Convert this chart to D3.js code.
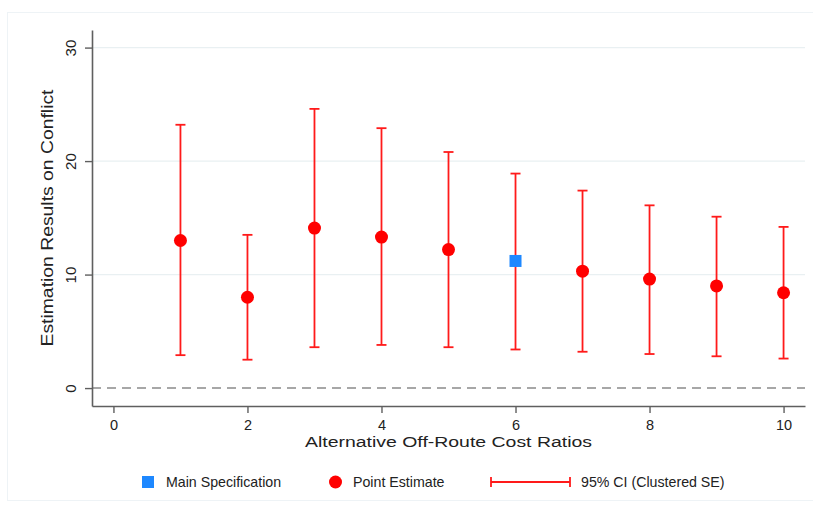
<!DOCTYPE html>
<html>
<head>
<meta charset="utf-8">
<script src="https://cdn.jsdelivr.net/npm/d3@7"></script>
<style>
    body { margin: 0; background: #ffffff; }
    #chart { width: 813px; height: 506px; }
    text { font-family: Arial, "Liberation Sans", sans-serif; }
</style>
</head>
<body>
<div id="chart"></div>
<script>
// cost ratios on the x axis
var ratios = [1, 2, 3, 4, 5, 6, 7, 8, 9, 10];
// point estimates and 95% CI bounds
var estimates = [13.0, 8.0, 14.1, 13.3, 12.2, 11.2, 10.3, 9.6, 9.0, 8.4];
var ciLower = [2.9, 2.5, 3.6, 3.8, 3.6, 3.4, 3.2, 3.0, 2.8, 2.6];
var ciUpper = [23.2, 13.5, 24.6, 22.9, 20.8, 18.9, 17.4, 16.1, 15.1, 14.2];
// ratio used in the main specification
var mainRatio = 6;

var xTicks = [0, 2, 4, 6, 8, 10];
var yTicks = [0, 10, 20, 30];
var legendLabels = ["Main Specification", "Point Estimate", "95% CI (Clustered SE)"];

var xTitle = "Alternative Off-Route Cost Ratios";
var yTitle = "Estimation Results on Conflict";

var red = "#ff1a1a";
var blue = "#1e88ff";
var axisColor = "#5f5f5f";

var divWidth = 813, divHeight = 506;
var padding = { left: 92, right: 8, top: 30, bottom: 100 };
var plotWidth = divWidth - padding.left - padding.right;
var plotHeigh = divHeight - padding.top - padding.bottom;

var dataset = ratios.map(function (r, i) {
    return { x: r, est: estimates[i], lo: ciLower[i], hi: ciUpper[i] };
});

var x_scale = d3.scaleLinear()
    .domain([-0.32, 10.32])
    .range([0, plotWidth]);
var y_scale = d3.scaleLinear()
    .domain([-1.58, 31.55])
    .range([plotHeigh, 0]);

var svg = d3.select("#chart")
    .append("svg")
    .attr("width", divWidth)
    .attr("height", divHeight);

// faint outer frame
svg.append("rect")
    .attr("x", 7.5)
    .attr("y", 12.5)
    .attr("width", 820)
    .attr("height", 488)
    .attr("fill", "none")
    .attr("stroke", "#eef3f6");

var plot = svg.append("g")
    .attr("transform", "translate(" + padding.left + "," + padding.top + ")");

// grid lines
plot.append("g")
    .selectAll("line")
    .data(yTicks.filter(function (d) { return d > 0; }))
    .enter()
    .append("line")
    .attr("x1", 0)
    .attr("x2", plotWidth)
    .attr("y1", function (d) { return y_scale(d); })
    .attr("y2", function (d) { return y_scale(d); })
    .attr("stroke", "#e9f0f2")
    .attr("stroke-width", 1.2);

// zero reference line
plot.append("line")
    .attr("x1", 0)
    .attr("x2", plotWidth)
    .attr("y1", y_scale(0))
    .attr("y2", y_scale(0))
    .attr("stroke", "#8a8a8a")
    .attr("stroke-width", 1.5)
    .attr("stroke-dasharray", "9,6");

// axes
var x_axis = d3.axisBottom(x_scale)
    .tickValues(xTicks)
    .tickSize(7)
    .tickPadding(7)
    .tickSizeOuter(0);
var y_axis = d3.axisLeft(y_scale)
    .tickValues(yTicks)
    .tickSize(7)
    .tickSizeOuter(0);

var gx = plot.append("g")
    .attr("transform", "translate(0," + plotHeigh + ")")
    .call(x_axis);
var gy = plot.append("g")
    .call(y_axis);

[gx, gy].forEach(function (g) {
    g.select(".domain").attr("stroke", axisColor).attr("stroke-width", 1.6);
    g.selectAll(".tick line").attr("stroke", axisColor).attr("stroke-width", 1.4);
    g.selectAll(".tick text")
        .attr("fill", "#222")
        .attr("font-size", 15)
        .attr("font-family", "Arial, 'Liberation Sans', sans-serif");
});

gx.selectAll(".tick text").attr("font-size", 14.5);

gy.selectAll(".tick text")
    .attr("transform", "rotate(-90)")
    .attr("x", 0)
    .attr("y", -16)
    .attr("dy", 0)
    .attr("text-anchor", "middle");

// confidence intervals
var ci = plot.append("g")
    .selectAll("g")
    .data(dataset)
    .enter()
    .append("g")
    .attr("stroke", red)
    .attr("stroke-width", 1.8);

ci.append("line")
    .attr("x1", function (d) { return x_scale(d.x); })
    .attr("x2", function (d) { return x_scale(d.x); })
    .attr("y1", function (d) { return y_scale(d.lo); })
    .attr("y2", function (d) { return y_scale(d.hi); });
ci.append("line")
    .attr("x1", function (d) { return x_scale(d.x) - 5; })
    .attr("x2", function (d) { return x_scale(d.x) + 5; })
    .attr("y1", function (d) { return y_scale(d.lo); })
    .attr("y2", function (d) { return y_scale(d.lo); });
ci.append("line")
    .attr("x1", function (d) { return x_scale(d.x) - 5; })
    .attr("x2", function (d) { return x_scale(d.x) + 5; })
    .attr("y1", function (d) { return y_scale(d.hi); })
    .attr("y2", function (d) { return y_scale(d.hi); });

// point estimates
plot.append("g")
    .selectAll("circle")
    .data(dataset.filter(function (d) { return d.x !== mainRatio; }))
    .enter()
    .append("circle")
    .attr("cx", function (d) { return x_scale(d.x); })
    .attr("cy", function (d) { return y_scale(d.est); })
    .attr("r", 6.5)
    .attr("fill", "red");

plot.append("g")
    .selectAll("rect")
    .data(dataset.filter(function (d) { return d.x === mainRatio; }))
    .enter()
    .append("rect")
    .attr("x", function (d) { return x_scale(d.x) - 6; })
    .attr("y", function (d) { return y_scale(d.est) - 6; })
    .attr("width", 12)
    .attr("height", 12)
    .attr("fill", blue);

// axis titles
svg.append("text")
    .attr("x", padding.left + plotWidth / 2)
    .attr("y", 447)
    .attr("text-anchor", "middle")
    .attr("font-size", 15.5)
    .attr("textLength", 287)
    .attr("lengthAdjust", "spacingAndGlyphs")
    .attr("fill", "#222")
    .text(xTitle);

svg.append("text")
    .attr("transform", "translate(53," + (padding.top + plotHeigh / 2) + ") rotate(-90)")
    .attr("text-anchor", "middle")
    .attr("font-size", 16)
    .attr("textLength", 257)
    .attr("lengthAdjust", "spacingAndGlyphs")
    .attr("fill", "#222")
    .text(yTitle);

// legend
var legend_y = 482;
var legend_area = svg.append("g");

legend_area.append("rect")
    .attr("x", 142)
    .attr("y", legend_y - 6)
    .attr("width", 12)
    .attr("height", 12)
    .attr("fill", blue);
legend_area.append("circle")
    .attr("cx", 335.5)
    .attr("cy", legend_y)
    .attr("r", 6.5)
    .attr("fill", "red");

var legend_ci = legend_area.append("g")
    .attr("stroke", red)
    .attr("stroke-width", 1.8);
legend_ci.append("line")
    .attr("x1", 491).attr("x2", 570)
    .attr("y1", legend_y).attr("y2", legend_y);
legend_ci.append("line")
    .attr("x1", 491).attr("x2", 491)
    .attr("y1", legend_y - 5).attr("y2", legend_y + 5);
legend_ci.append("line")
    .attr("x1", 570).attr("x2", 570)
    .attr("y1", legend_y - 5).attr("y2", legend_y + 5);

legend_area.selectAll("text")
    .data(legendLabels)
    .enter()
    .append("text")
    .attr("x", function (d, i) { return [166, 353, 581][i]; })
    .attr("y", legend_y)
    .attr("dy", ".35em")
    .attr("font-size", 14.2)
    .attr("fill", "#222")
    .text(function (d) { return d; });
</script>
</body>
</html>
